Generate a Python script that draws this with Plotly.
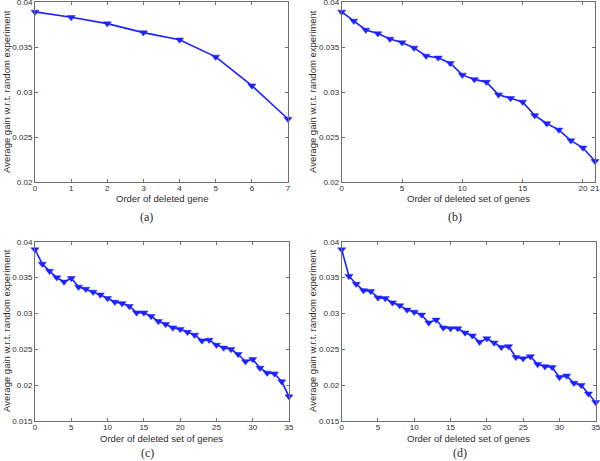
import plotly.graph_objects as go

# ---- data ----
x_a = list(range(0, 8))
y_a = [0.0389, 0.0383, 0.0376, 0.0366, 0.0358, 0.0339, 0.0307, 0.0270]

x_b = list(range(0, 22))
y_b = [0.0389, 0.0379, 0.0369, 0.0365, 0.0359, 0.0355, 0.0349, 0.0340, 0.0338, 0.0332,
       0.0319, 0.0314, 0.0311, 0.0297, 0.0293, 0.0289, 0.0274, 0.0265, 0.0258, 0.0246,
       0.0238, 0.0223]

x_c = list(range(0, 36))
y_c = [0.0389, 0.0369, 0.0359, 0.0350, 0.0344, 0.0349, 0.0337, 0.0334, 0.0330, 0.0326,
       0.0321, 0.0316, 0.0314, 0.0310, 0.0301, 0.0301, 0.0296, 0.0289, 0.0285, 0.0280,
       0.0278, 0.0274, 0.0270, 0.0262, 0.0263, 0.0256, 0.0252, 0.0250, 0.0243, 0.0233,
       0.0236, 0.0224, 0.0217, 0.0216, 0.0205, 0.0184]

x_d = list(range(0, 36))
y_d = [0.0389, 0.0352, 0.0341, 0.0332, 0.0331, 0.0322, 0.0321, 0.0315, 0.0311, 0.0305,
       0.0302, 0.0298, 0.0287, 0.0291, 0.0280, 0.0279, 0.0279, 0.0273, 0.0269, 0.0260,
       0.0265, 0.0259, 0.0253, 0.0254, 0.0239, 0.0237, 0.0240, 0.0229, 0.0226, 0.0225,
       0.0211, 0.0213, 0.0203, 0.0200, 0.0188, 0.0176]

ytick_top = [0.02, 0.025, 0.03, 0.035, 0.04]
ytick_top_text = ["0.02", "0.025", "0.03", "0.035", "0.04"]
ytick_bot = [0.015, 0.02, 0.025, 0.03, 0.035, 0.04]
ytick_bot_text = ["0.015", "0.02", "0.025", "0.03", "0.035", "0.04"]
xtick_a = [0, 1, 2, 3, 4, 5, 6, 7]
xtick_b = [0, 5, 10, 15, 20, 21]
xtick_cd = [0, 5, 10, 15, 20, 25, 30, 35]

ylabel = "Average gain w.r.t. random experiment"
xlabels = ["Order of deleted gene", "Order of deleted set of genes",
           "Order of deleted set of genes", "Order of deleted set of genes"]
captions = ["(a)", "(b)", "(c)", "(d)"]

W, H = 600, 461
BLUE = "#1c22ff"
AX = "#6e6e6e"
TXT = "#2b2b2b"

fig = go.Figure()

panels = [
    dict(x=x_a, y=y_a, xd=(35, 288), yd=(2, 182), xr=[0, 7], yr=[0.02, 0.04],
         xt=xtick_a, yt=ytick_top, ytt=ytick_top_text),
    dict(x=x_b, y=y_b, xd=(341.7, 595), yd=(2, 182), xr=[0, 21], yr=[0.02, 0.04],
         xt=xtick_b, yt=ytick_top, ytt=ytick_top_text),
    dict(x=x_c, y=y_c, xd=(35, 289), yd=(241.7, 421), xr=[0, 35], yr=[0.015, 0.04],
         xt=xtick_cd, yt=ytick_bot, ytt=ytick_bot_text),
    dict(x=x_d, y=y_d, xd=(341.7, 595.7), yd=(241.7, 421), xr=[0, 35], yr=[0.015, 0.04],
         xt=xtick_cd, yt=ytick_bot, ytt=ytick_bot_text),
]

# label positions (px)
xlab_pos = [(161.5, 198.5), (468, 198.5), (161.5, 438), (468.5, 438)]
ylab_pos = [(6, 92), (312, 92), (6, 331), (312, 331)]
cap_pos = [(146, 216.5), (455, 216.5), (147, 453), (460, 453)]

layout_axes = {}
annotations = []
for i, p in enumerate(panels):
    n = "" if i == 0 else str(i + 1)
    fig.add_trace(go.Scatter(
        x=p["x"], y=p["y"], mode="lines+markers",
        line=dict(color=BLUE, width=1.6),
        marker=dict(symbol="triangle-down", size=7, color=BLUE,
                    line=dict(color=BLUE, width=0.5)),
        xaxis="x" + n, yaxis="y" + n, showlegend=False, cliponaxis=False,
    ))
    x0, x1 = p["xd"]
    y0, y1 = p["yd"]
    layout_axes["xaxis" + n] = dict(
        domain=[x0 / W, x1 / W], range=p["xr"], anchor="y" + n, automargin=False,
        tickvals=p["xt"], ticks="inside", ticklen=3, tickcolor=AX,
        showline=True, linecolor=AX, linewidth=1, mirror="ticks",
        showgrid=False, zeroline=False, ticklabeloverflow="allow",
        ticklabelstandoff=-2,
        tickfont=dict(family="Liberation Sans, Arial", size=8, color=TXT),
    )
    layout_axes["yaxis" + n] = dict(
        domain=[1 - y1 / H, 1 - y0 / H], range=p["yr"], anchor="x" + n, automargin=False,
        tickvals=p["yt"], ticktext=p["ytt"], ticks="inside", ticklen=3, tickcolor=AX,
        showline=True, linecolor=AX, linewidth=1, mirror="ticks",
        showgrid=False, zeroline=False, ticklabeloverflow="allow",
        tickfont=dict(family="Liberation Sans, Arial", size=8, color=TXT),
    )
    xl = xlab_pos[i]
    annotations.append(dict(text=xlabels[i], x=xl[0] / W, y=1 - xl[1] / H,
                            xref="paper", yref="paper", showarrow=False,
                            xanchor="center", yanchor="middle",
                            font=dict(family="Liberation Sans, Arial", size=9.5, color=TXT)))
    yl = ylab_pos[i]
    annotations.append(dict(text=ylabel, x=yl[0] / W, y=1 - yl[1] / H,
                            xref="paper", yref="paper", showarrow=False, textangle=-90,
                            xanchor="center", yanchor="middle",
                            font=dict(family="Liberation Sans, Arial", size=9.5, color=TXT)))
    cp = cap_pos[i]
    annotations.append(dict(text=captions[i], x=cp[0] / W, y=1 - cp[1] / H,
                            xref="paper", yref="paper", showarrow=False,
                            xanchor="center", yanchor="middle",
                            font=dict(family="Liberation Serif, DejaVu Serif", size=12, color=TXT)))

fig.update_layout(
    width=W, height=H, margin=dict(l=0, r=0, t=0, b=0, autoexpand=False),
    paper_bgcolor="white", plot_bgcolor="white",
    annotations=annotations, **layout_axes,
)

fig.write_html("out.html", config={"displayModeBar": False},
               post_script="document.body.style.margin='0';")
